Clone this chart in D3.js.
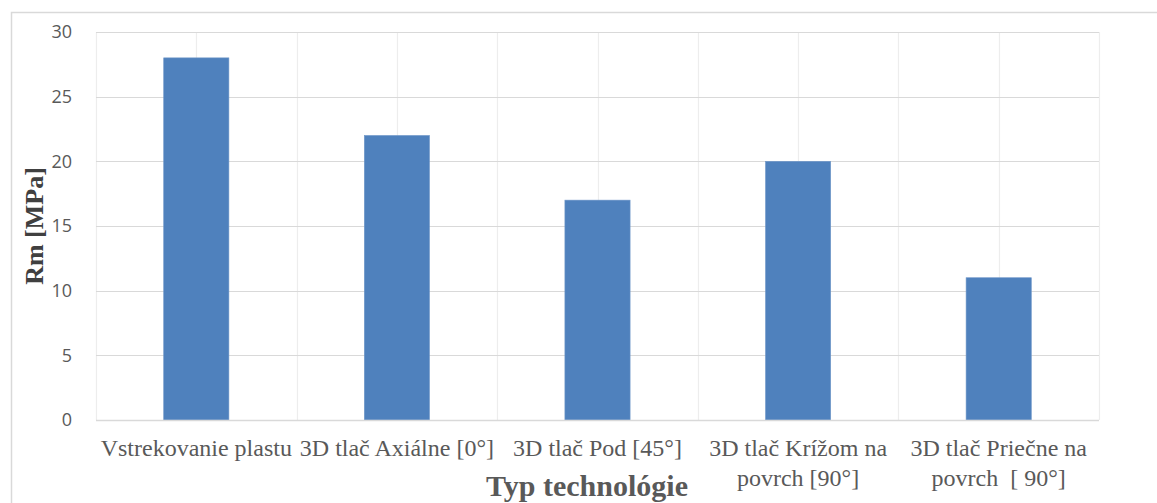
<!DOCTYPE html>
<html>
<head>
<meta charset="utf-8">
<script src="https://cdn.jsdelivr.net/npm/d3@7"></script>
<style>
html,body{margin:0;padding:0;background:#fff;}
svg{display:block;}
</style>
</head>
<body>
<svg id="chart" width="1157" height="503"></svg>
<script>
const categories = [
  "Vstrekovanie plastu",
  "3D tlač Axiálne [0°]",
  "3D tlač Pod [45°]",
  "3D tlač Krížom na\npovrch [90°]",
  "3D tlač Priečne na\npovrch  [ 90°]"
];
const values = [28, 22, 17, 20, 11];
const yTicks = [0, 5, 10, 15, 20, 25, 30];
const yTitle = "Rm [MPa]";
const xTitle = "Typ technológie";

const SERIF = "Liberation Serif";
const SANS = "Open Sans";

const svg = d3.select("#chart");
const plot = {left: 96, right: 1099, top: 32, bottom: 420};

// chart border
svg.append("rect")
  .attr("x", 11.5).attr("y", 12.5)
  .attr("width", 1200).attr("height", 600)
  .attr("fill", "none").attr("stroke", "#d9d9d9").attr("stroke-width", 1.5);

const x = d3.scaleBand().domain(categories).range([plot.left, plot.right]).padding(0);
const y = d3.scaleLinear().domain([0, 30]).range([plot.bottom, plot.top]);

// vertical gridlines at category edges and centers
const vLines = [];
categories.forEach(c => { vLines.push(x(c)); vLines.push(x(c) + x.bandwidth() / 2); });
vLines.push(plot.right);
svg.selectAll("line.v").data(vLines).join("line").attr("class", "v")
  .attr("x1", d => Math.round(d) + 0.5).attr("x2", d => Math.round(d) + 0.5)
  .attr("y1", plot.top).attr("y2", plot.bottom)
  .attr("stroke", "#ededed").attr("stroke-width", 1.2);

// horizontal gridlines
svg.selectAll("line.h").data(yTicks).join("line").attr("class", "h")
  .attr("x1", plot.left).attr("x2", plot.right)
  .attr("y1", d => Math.round(y(d)) + 0.5).attr("y2", d => Math.round(y(d)) + 0.5)
  .attr("stroke", "#d9d9d9").attr("stroke-width", 1.2);

// bars
const barW = x.bandwidth() * 0.325;
svg.selectAll("rect.bar").data(values).join("rect").attr("class", "bar")
  .attr("x", (d, i) => x(categories[i]) + x.bandwidth() / 2 - barW / 2)
  .attr("y", d => y(d))
  .attr("width", barW)
  .attr("height", d => y(0) - y(d))
  .attr("fill", "#4f81bd")
  .attr("stroke", "#6f97c9").attr("stroke-width", 0.6);

// axis line
svg.append("line")
  .attr("x1", plot.left).attr("x2", plot.right)
  .attr("y1", plot.bottom + 0.5).attr("y2", plot.bottom + 0.5)
  .attr("stroke", "#d9d9d9").attr("stroke-width", 1.5);

// y tick labels
yTicks.forEach(t => {
  svg.append("text")
    .style("font-family", SANS).style("font-size", "18px").style("fill", "#595959")
    .attr("x", 72).attr("y", y(t))
    .attr("dy", "0.36em")
    .attr("text-anchor", "end")
    .text(t);
});

// x labels (one text per line)
categories.forEach(c => {
  c.split("\n").forEach((ln, i) => {
    svg.append("text")
      .attr("font-family", SERIF).attr("font-size", 24).attr("fill", "#595959")
      .attr("text-anchor", "middle")
      .attr("x", x(c) + x.bandwidth() / 2)
      .attr("y", plot.bottom + 36 + i * 30)
      .text(ln.replace(/  /g, " \u00a0"));
  });
});

// y title
svg.append("text")
  .attr("transform", `translate(43,226) rotate(-90)`)
  .attr("text-anchor", "middle")
  .style("font-family", SERIF).style("font-weight", "bold").style("font-size", "26px")
  .style("fill", "#404040")
  .text(yTitle);

// x title
svg.append("text")
  .attr("x", 587).attr("y", 496)
  .attr("text-anchor", "middle")
  .style("font-family", SERIF).style("font-weight", "bold").style("font-size", "30px")
  .style("fill", "#595959")
  .text(xTitle);
</script>
</body>
</html>
